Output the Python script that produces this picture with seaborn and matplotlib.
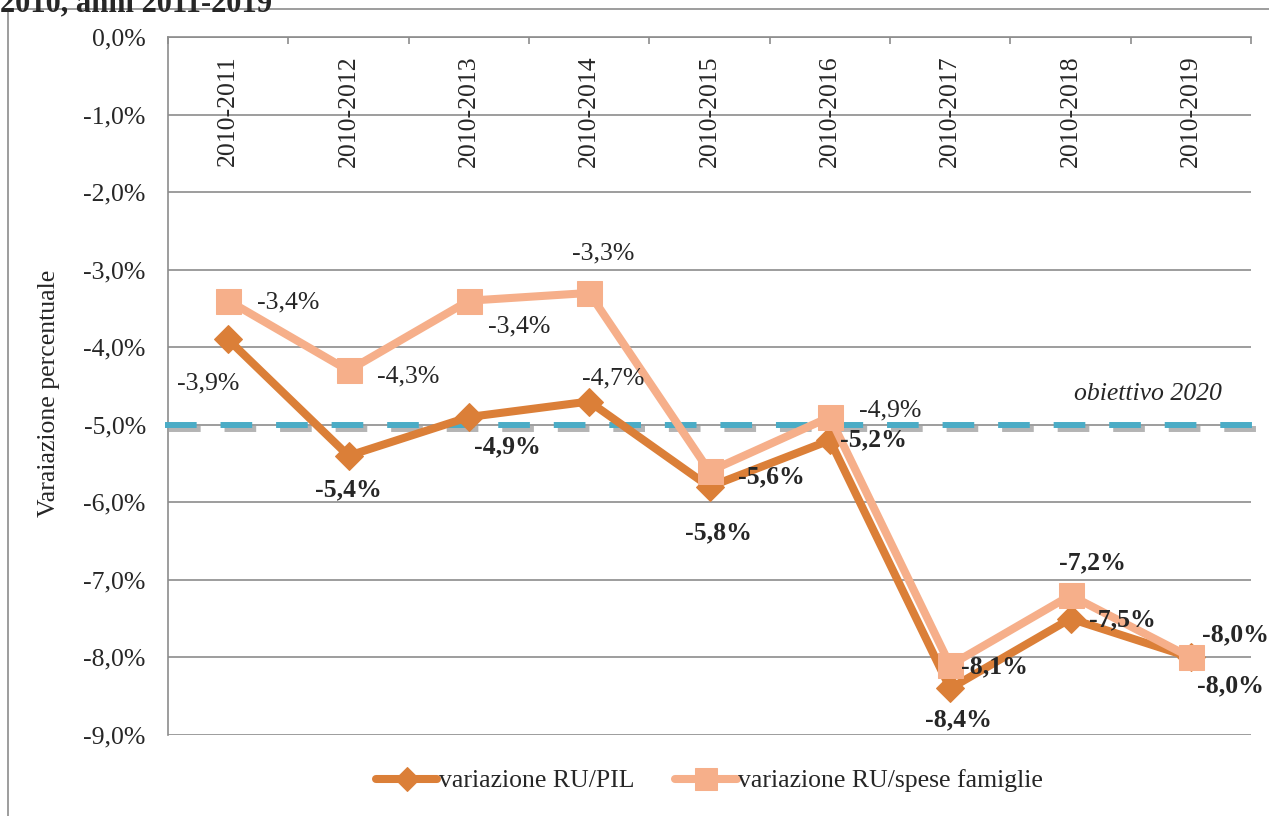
import numpy as np
import pandas as pd
import seaborn as sns
import matplotlib.pyplot as plt
import matplotlib.patheffects as pe
from matplotlib.patches import Rectangle
from matplotlib.ticker import FuncFormatter

# dati
periodi = ["2010-2011", "2010-2012", "2010-2013", "2010-2014", "2010-2015",
           "2010-2016", "2010-2017", "2010-2018", "2010-2019"]
ru_pil = [-3.9, -5.4, -4.9, -4.7, -5.8, -5.2, -8.4, -7.5, -8.0]
ru_spese = [-3.4, -4.3, -3.4, -3.3, -5.6, -4.9, -8.1, -7.2, -8.0]
obiettivo = -5.0
nome_pil = "variazione RU/PIL"
nome_spese = "variazione RU/spese famiglie"

# stile etichette (grassetto o no, spostamento in pixel)
grassetto_pil = [False, True, True, False, True, True, True, True, True]
off_pil = [(-20, -44), (0, -34), (39, -30), (24, 23), (9, -46), (44, 0), (8, -31), (52, -1), (40, -28)]
grassetto_spese = [False, False, False, False, True, False, True, True, True]
off_spese = [(60, -2), (60, -6), (50, -26), (14, 39), (62, -6), (60, 7), (44, -2), (22, 33), (45, 23)]

df = pd.DataFrame({"periodo": periodi, "pil": ru_pil, "spese": ru_spese})

sns.set_style("white")
plt.rcParams["font.family"] = ["Liberation Serif", "DejaVu Serif"]
fs = 18.5
col_pil = "#DB7F38"
col_spese = "#F6AF8A"
grigio = "#8C8C8C"

fig = plt.figure(figsize=(12.69, 8.16), dpi=100)
ax = fig.add_axes([168 / 1269, 1 - 735 / 816, 1083 / 1269, 698 / 816])

x = np.arange(len(periodi))
sns.lineplot(x=x, y=df["pil"], ax=ax, color=col_pil, lw=5.8, marker="D", markersize=14,
             markeredgecolor=col_pil, label=nome_pil, zorder=4)
sns.lineplot(x=x, y=df["spese"], ax=ax, color=col_spese, lw=5.8, marker="s", markersize=18,
             markeredgecolor=col_spese, label=nome_spese, zorder=5)

# linea obiettivo 2020
ax.plot([-0.003, 1.017], [obiettivo, obiettivo], transform=ax.get_yaxis_transform(),
        color="#4BACC6", lw=4.3, dashes=(5.3, 4), solid_capstyle="butt", dash_capstyle="butt",
        clip_on=False, zorder=3,
        path_effects=[pe.SimpleLineShadow(offset=(3, -3), shadow_color="#444444", alpha=0.4),
                      pe.Normal()])
ax.annotate("obiettivo 2020", xy=(0.905, obiettivo), xycoords=ax.get_yaxis_transform(),
            xytext=(0, 31), textcoords="offset pixels", ha="center", va="center",
            fontsize=fs, style="italic")

# etichette dati
for i in range(len(periodi)):
    ax.annotate(f"{ru_pil[i]:.1f}%".replace(".", ","), xy=(x[i], ru_pil[i]), xytext=off_pil[i],
                textcoords="offset pixels", ha="center", va="center", fontsize=fs,
                fontweight="bold" if grassetto_pil[i] else "normal", zorder=6)
    ax.annotate(f"{ru_spese[i]:.1f}%".replace(".", ","), xy=(x[i], ru_spese[i]), xytext=off_spese[i],
                textcoords="offset pixels", ha="center", va="center", fontsize=fs,
                fontweight="bold" if grassetto_spese[i] else "normal", zorder=6)

# etichette categorie dentro il grafico, in alto
for i, p in enumerate(periodi):
    ax.text(x[i], -0.24, p, rotation=90, ha="center", va="top", fontsize=fs)

ax.set_xlim(-0.5, len(periodi) - 0.5)
ax.set_ylim(-9, 0)
ax.set_yticks(np.arange(-9, 0.5, 1))
ax.yaxis.set_major_formatter(FuncFormatter(lambda v, _: f"{v:.1f}%".replace(".", ",")))
ax.set_xticks(np.arange(-0.5, len(periodi), 1))
ax.set_xticklabels([])
ax.xaxis.tick_top()
ax.tick_params(axis="x", direction="in", length=5, width=1.2, color=grigio)
ax.tick_params(axis="y", direction="out", length=6, width=1.2, color=grigio, labelsize=fs, pad=10)
ax.set_xlabel("")
ax.set_ylabel("Varaiazione percentuale", fontsize=fs)
ax.yaxis.set_label_coords(-0.1, 0.49)

ax.grid(axis="y", color=grigio, lw=1.2)
ax.set_axisbelow(True)
for s in ["right", "bottom"]:
    ax.spines[s].set_visible(False)
for s in ["left", "top"]:
    ax.spines[s].set_color(grigio)
    ax.spines[s].set_linewidth(1.2)

ax.legend(loc="center", bbox_to_anchor=(0.559, 1 - 781 / 816), bbox_transform=fig.transFigure,
          ncol=2, frameon=False, fontsize=fs, handlelength=2.4, handletextpad=0.05,
          columnspacing=1.6, markerscale=0.85)

# cornice esterna e titolo tagliato
fig.add_artist(Rectangle((8 / 1269, -0.05), 1.0, 1.05 - 9 / 816, transform=fig.transFigure,
                         fill=False, edgecolor=grigio, lw=1.2))
fig.text(0.0, 1 - 11 / 816, "2010, anni 2011-2019", fontsize=22, fontweight="bold", va="baseline")

fig.savefig("out.png", dpi=100)
